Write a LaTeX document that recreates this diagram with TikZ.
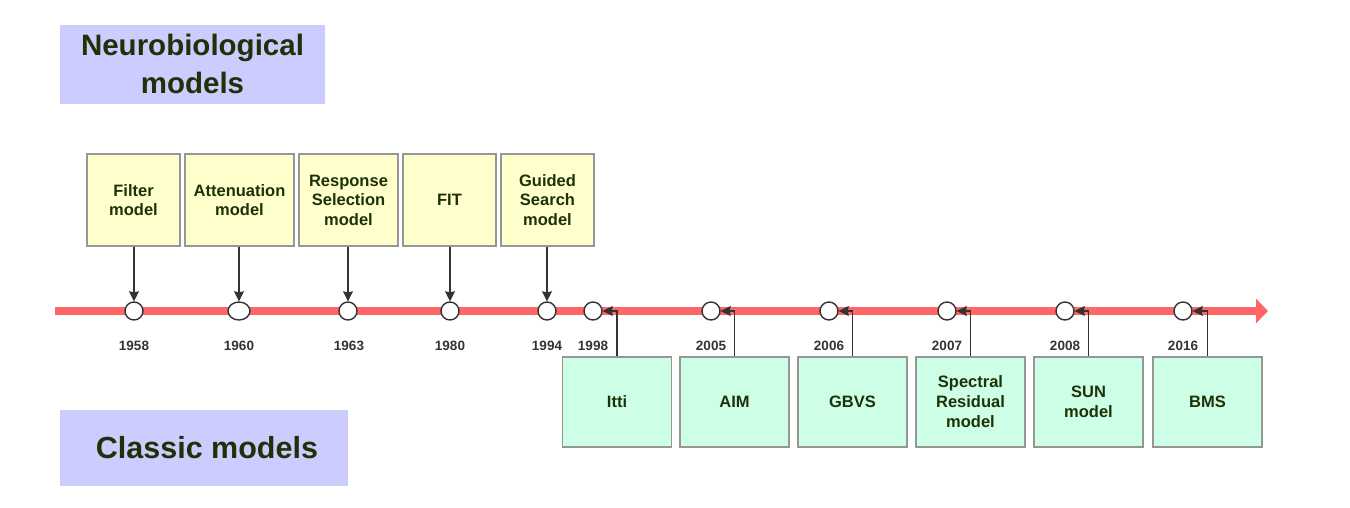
\documentclass[tikz,border=0pt]{standalone}
\usepackage{fontspec}
\setmainfont{Liberation Sans}
\usetikzlibrary{arrows.meta,shapes.geometric}
\definecolor{txtg}{RGB}{30,50,8}
\definecolor{yfill}{RGB}{255,255,204}
\definecolor{gfill}{RGB}{204,255,230}
\definecolor{bfill}{RGB}{204,204,255}
\definecolor{bord}{RGB}{150,150,150}
\definecolor{redline}{RGB}{255,102,102}
\definecolor{arr}{RGB}{51,51,51}
\tikzset{
  ybox/.style={draw=bord, line width=1.6pt, fill=yfill, inner sep=0pt, align=center,
    minimum width=93pt, minimum height=92pt, text=txtg,
    font=\fontsize{16.5}{19.5}\selectfont\bfseries},
  gbox/.style={draw=bord, line width=1.6pt, fill=gfill, inner sep=0pt, align=center,
    minimum width=109pt, minimum height=90pt, text=txtg,
    font=\fontsize{16.5}{20}\selectfont\bfseries},
  circ/.style={circle, draw=arr, line width=1.4pt, fill=white, minimum size=18pt, inner sep=0pt},
  yr/.style={text=arr, font=\fontsize{13.5}{15}\selectfont\bfseries, inner sep=0pt},
  con/.style={draw=arr, line width=1.4pt, -{Stealth[length=10pt,width=10pt,inset=1pt]}},
  title/.style={fill=bfill, inner sep=0pt, align=center, text=txtg}
}
\begin{document}
\begin{tikzpicture}[x=1pt,y=-1pt]
\useasboundingbox (0,0) rectangle (1350,507);
% category labels
\node[title, minimum width=265pt, minimum height=79pt,
  font=\fontsize{29.5}{38}\selectfont\bfseries] (neuro) at (192.5,64) {Neurobiological\\models};
\node[title, minimum width=288pt, minimum height=76pt,
  font=\fontsize{30.5}{36}\selectfont\bfseries] (classic) at (204,448) {\hspace*{6pt}Classic models};
% timeline
\coordinate (tl0) at (55,311);
\coordinate (tl1) at (1268,311);
\draw[redline, line width=8pt, -{Triangle[length=12pt,width=24pt]}] (tl0) -- (tl1);
% circles
\node[circ] (c1) at (134,311) {};
\node[draw=arr, line width=1.4pt, fill=white, ellipse, inner sep=0pt, minimum width=22pt, minimum height=18pt] (c2) at (239,311) {};
\node[circ] (c3) at (348,311) {};
\node[circ] (c4) at (450,311) {};
\node[circ] (c5) at (547,311) {};
\node[circ] (c6) at (593,311) {};
\node[circ] (c7) at (711,311) {};
\node[circ] (c8) at (829,311) {};
\node[circ] (c9) at (947,311) {};
\node[circ] (c10) at (1065,311) {};
\node[circ] (c11) at (1183,311) {};
% years
\node[yr] (y1) at (134,346) {1958};
\node[yr] (y2) at (239,346) {1960};
\node[yr] (y3) at (349,346) {1963};
\node[yr] (y4) at (450,346) {1980};
\node[yr] (y5) at (547,346) {1994};
\node[yr] (y6) at (593,346) {1998};
\node[yr] (y7) at (711,346) {2005};
\node[yr] (y8) at (829,346) {2006};
\node[yr] (y9) at (947,346) {2007};
\node[yr] (y10) at (1065,346) {2008};
\node[yr] (y11) at (1183,346) {2016};
% top boxes
\node[ybox] (b1) at (133.5,200) {Filter\\model};
\node[ybox, minimum width=109pt] (b2) at (239.5,200) {Attenuation\\model};
\node[ybox, minimum width=99pt] (b3) at (348.5,200) {Response\\Selection\\model};
\node[ybox] (b4) at (449.5,200) {FIT};
\node[ybox] (b5) at (547.5,200) {Guided\\Search\\model};
% bottom boxes
\node[gbox] (g1) at (617,402) {Itti};
\node[gbox] (g2) at (734.5,402) {AIM};
\node[gbox] (g3) at (852.5,402) {GBVS};
\node[gbox] (g4) at (970.5,402) {Spectral\\Residual\\model};
\node[gbox] (g5) at (1088.5,402) {SUN\\model};
\node[gbox] (g6) at (1207.5,402) {BMS};
% connectors top
\draw[con] (b1.south -| c1) -- (c1.north);
\draw[con] (b2.south -| c2) -- (c2.north);
\draw[con] (b3.south -| c3) -- (c3.north);
\draw[con] (b4.south -| c4) -- (c4.north);
\draw[con] (b5.south -| c5) -- (c5.north);
% connectors bottom
\draw[con] (g1.north) |- (c6.east);
\draw[con] (g2.north) |- (c7.east);
\draw[con] (g3.north) |- (c8.east);
\draw[con] (g4.north) |- (c9.east);
\draw[con] (g5.north) |- (c10.east);
\draw[con] (g6.north) |- (c11.east);
\end{tikzpicture}
\end{document}
